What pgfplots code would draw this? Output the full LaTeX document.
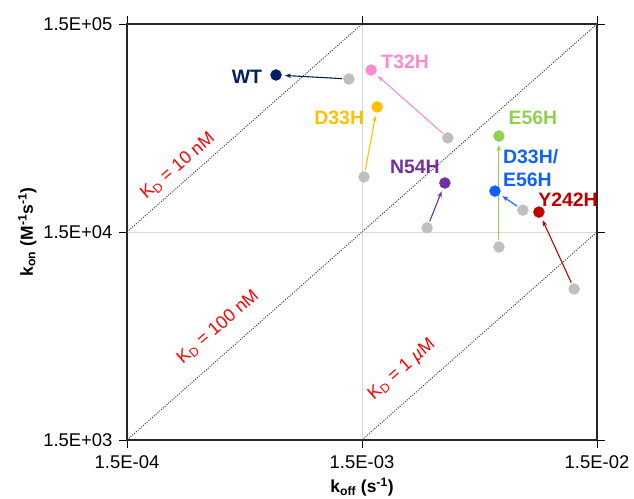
\documentclass[border=0pt]{standalone}
\usepackage{fontspec}
\setmainfont{Liberation Sans}
\usepackage{pgfplots}
\pgfplotsset{compat=1.18}
\usetikzlibrary{arrows.meta}
\definecolor{cWT}{HTML}{002060}
\definecolor{cT32}{HTML}{FF8AD0}
\definecolor{cD33}{HTML}{FFC000}
\definecolor{cN54}{HTML}{7030A0}
\definecolor{cE56}{HTML}{92D050}
\definecolor{cDE}{HTML}{0F62FE}
\definecolor{cY242}{HTML}{C00000}
\definecolor{cgray}{HTML}{BFBFBF}
\definecolor{cgrid}{HTML}{D9D9D9}
\begin{document}
\begin{tikzpicture}
\begin{axis}[
  at={(0,0)}, anchor=south west,
  scale only axis, width=470bp, height=416bp,
  xmode=log, ymode=log,
  xmin=1.5e-4, xmax=1.5e-2, ymin=1.5e3, ymax=1.5e5,
  xtick={1.5e-4,1.5e-3,1.5e-2}, xticklabels={1.5E-04,1.5E-03,1.5E-02},
  ytick={1500,15000,150000}, yticklabels={1.5E+03,1.5E+04,1.5E+05},
  minor xtick={}, minor ytick={},
  minor tick style={draw=none}, minor tick length=0pt,
  xmajorgrids, ymajorgrids,
  grid style={color=cgrid, line width=0.8bp},
  tick align=outside, major tick length=8bp,
  tick style={black, line width=0.8bp},
  axis line style={line width=1.3bp, color=black!85},
  tick label style={font=\fontsize{18.5}{21}\selectfont},
  xticklabel style={yshift=-4bp},
  yticklabel style={xshift=-3bp},
  every axis x label/.style={at={(axis description cs:0.5,-0.113)}, anchor=center},
  every axis y label/.style={at={(axis description cs:-0.212,0.5)}, rotate=90, anchor=center},
  xlabel={\fontsize{17.5}{20}\selectfont\bfseries k\textsubscript{off} (s\textsuperscript{-1})},
  ylabel={\fontsize{17.5}{20}\selectfont\bfseries k\textsubscript{on} (M\textsuperscript{-1}s\textsuperscript{-1})},
  clip=false,
]
% K_D iso-affinity lines
\pgfplotsset{kdline/.style={black!75, line width=1bp, dash pattern=on 1bp off 1.4bp}}
\addplot[kdline] coordinates {(1.5e-4,1.5e4) (1.5e-3,1.5e5)};
\addplot[kdline] coordinates {(1.5e-4,1.5e3) (1.5e-2,1.5e5)};
\addplot[kdline] coordinates {(1.5e-3,1.5e3) (1.5e-2,1.5e4)};
% arrows (parent -> mutant)
\pgfplotsset{arr/.style={line width=1.1bp, -{Stealth[length=6bp,width=4.5bp]}, shorten <=7bp, shorten >=9bp}}
\addplot[cWT, arr] coordinates {(1.32e-3,8.16e4) (6.46e-4,8.53e4)};
\addplot[cT32, arr] coordinates {(3.48e-3,4.25e4) (1.64e-3,9.01e4)};
\addplot[cD33, arr] coordinates {(1.53e-3,2.76e4) (1.74e-3,5.99e4)};
\addplot[cN54, arr] coordinates {(2.84e-3,1.57e4) (3.38e-3,2.58e4)};
\addplot[cE56, arr] coordinates {(5.74e-3,1.27e4) (5.74e-3,4.34e4)};
\addplot[cDE, arr] coordinates {(7.26e-3,1.91e4) (5.52e-3,2.36e4)};
\addplot[cY242, arr] coordinates {(1.20e-2,7.98e3) (8.49e-3,1.87e4)};
% parent (gray) points
\addplot[only marks, mark=*, mark size=5.5bp, mark options={draw=cgray, fill=cgray}] coordinates {
 (1.32e-3,8.16e4) (3.48e-3,4.25e4) (1.53e-3,2.76e4) (2.84e-3,1.57e4)
 (5.74e-3,1.27e4) (7.26e-3,1.91e4) (1.20e-2,7.98e3)};
% mutant points
\addplot[only marks, mark=*, mark size=5.5bp, mark options={draw=cWT, fill=cWT}] coordinates {(6.46e-4,8.53e4)};
\addplot[only marks, mark=*, mark size=5.5bp, mark options={draw=cT32, fill=cT32}] coordinates {(1.64e-3,9.01e4)};
\addplot[only marks, mark=*, mark size=5.5bp, mark options={draw=cD33, fill=cD33}] coordinates {(1.74e-3,5.99e4)};
\addplot[only marks, mark=*, mark size=5.5bp, mark options={draw=cN54, fill=cN54}] coordinates {(3.38e-3,2.58e4)};
\addplot[only marks, mark=*, mark size=5.5bp, mark options={draw=cE56, fill=cE56}] coordinates {(5.74e-3,4.34e4)};
\addplot[only marks, mark=*, mark size=5.5bp, mark options={draw=cDE, fill=cDE}] coordinates {(5.52e-3,2.36e4)};
\addplot[only marks, mark=*, mark size=5.5bp, mark options={draw=cY242, fill=cY242}] coordinates {(8.49e-3,1.87e4)};
% labels
\tikzset{lab/.style={font=\fontsize{19.5}{22}\selectfont\bfseries, inner sep=0pt}}
\node[lab, cWT] at (axis cs:4.86e-4,8.34e4) {WT};
\node[lab, cT32] at (axis cs:2.29e-3,9.85e4) {T32H};
\node[lab, cD33] at (axis cs:1.20e-3,5.30e4) {D33H};
\node[lab, cN54] at (axis cs:2.52e-3,3.08e4) {N54H};
\node[lab, cE56] at (axis cs:8.01e-3,5.30e4) {E56H};
\node[lab, cDE, anchor=west, align=left, font=\fontsize{19.5}{23}\selectfont\bfseries] at (axis cs:5.97e-3,3.05e4) {D33H/\\E56H};
\node[lab, cY242] at (axis cs:1.13e-2,2.14e4) {Y242H};
\tikzset{kd/.style={red, rotate=41, font=\fontsize{18}{20}\selectfont, inner sep=0pt}}
\node[kd] at (axis cs:2.47e-4,3.11e4) {K\textsubscript{D} = 10 nM};
\node[kd] at (axis cs:3.66e-4,5.24e3) {K\textsubscript{D} = 100 nM};
\node[kd] at (axis cs:2.22e-3,3.26e3) {K\textsubscript{D} = 1 \textit{µ}M};
\end{axis}
\pgfresetboundingbox
\path[use as bounding box] (-127bp,-59bp) rectangle (507bp,440bp);
\end{tikzpicture}
\end{document}
